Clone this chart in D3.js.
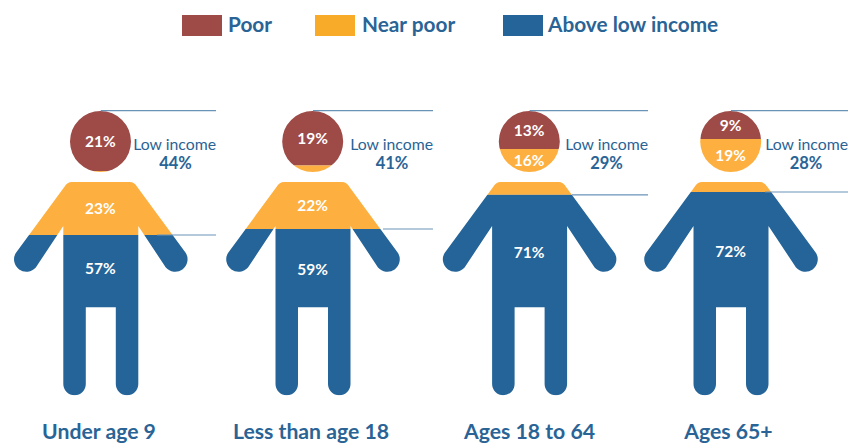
<!DOCTYPE html>
<html><head><meta charset="utf-8">
<script src="https://cdn.jsdelivr.net/npm/d3@7/dist/d3.min.js"></script>
<style>html,body{margin:0;padding:0;background:#fff}svg{display:block}text{font-family:Lato,sans-serif}</style>
</head><body><svg id="c" width="850" height="445"></svg>
<script>
const groups = ["Under age 9","Less than age 18","Ages 18 to 64","Ages 65+"];
const poor = [21,19,13,9];
const nearPoor = [23,22,16,19];
const above = [57,59,71,72];
const lowIncome = [44,41,29,28];
const series = ["Poor","Near poor","Above low income"];
const colors = ["#9e4a47","#fdb03f","#246498"];
const legendColors = ["#9e4a47","#f7ab28","#246498"];

const svg = d3.select("#c");
const ink = "#2a6496", lineCol = "#6a93b8";
// share of people (cumulative from the top) -> vertical position on the figure
const y = d3.scaleLinear().domain([0,9,13,21,28,41,44,100]).range([111,139,149,171,192,229,235,395.5]);
const centers = [100.8,313,529.6,731];
const headY = 141.5, headR = 30.5, bodyTop = 182, headBottom = 172, labelFloor = 310;

const body = "M-29,182 L29,182 Q33.5,182 36.5,187 L85,253 A12.4,12.4 0 0 1 65,267.5 L37.5,226 L37.5,384 A11.2,11.2 0 0 1 15,384 L15,307.3 L-15,307.3 L-15,384 A11.2,11.2 0 0 1 -37.5,384 L-37.5,226 L-65,267.5 A12.4,12.4 0 0 1 -85,253 L-36.5,187 Q-33.5,182 -29,182 Z";

const defs = svg.append("defs");
groups.forEach((g,i)=>{
  const c = defs.append("clipPath").attr("id","fig"+i);
  c.append("path").attr("d",body).attr("transform",`translate(${centers[i]},0)`);
  c.append("circle").attr("cx",centers[i]-0.3).attr("cy",headY).attr("r",headR);
});

// legend
const legX = [182,315,503], legTx = [228,362,548];
series.forEach((s,i)=>{
  svg.append("rect").attr("x",legX[i]).attr("y",15).attr("width",40).attr("height",21).attr("fill",legendColors[i]);
  svg.append("text").attr("x",legTx[i]).attr("y",32).attr("font-size",20.8).attr("font-weight",700).attr("fill",ink).text(s);
});

const lineRight = [216,433,648,848], lineLeft = [157,383,572,765], lowX = [175.5,392,606.5,806];
const mid = (a,b)=>(a+b)/2;
groups.forEach((g,i)=>{
  const G = svg.append("g");
  const cut = [0, poor[i], poor[i]+nearPoor[i], 100];
  const F = G.append("g").attr("clip-path",`url(#fig${i})`);
  series.forEach((s,k)=>{
    F.append("rect").attr("x",centers[i]-100).attr("width",200)
      .attr("y",y(cut[k])).attr("height",y(cut[k+1])-y(cut[k])).attr("fill",colors[k]);
  });
  // leader lines
  G.append("line").attr("x1",centers[i]).attr("x2",lineRight[i]).attr("y1",y(0)-0.3).attr("y2",y(0)-0.3).attr("stroke",lineCol).attr("stroke-width",1.2);
  G.append("line").attr("x1",lineLeft[i]).attr("x2",lineRight[i]).attr("y1",y(lowIncome[i])).attr("y2",y(lowIncome[i])).attr("stroke",lineCol).attr("stroke-width",1.2);
  // value labels
  const yPoor = mid(y(0),Math.min(y(cut[1]),headBottom));
  const b1 = y(cut[1]), b2 = y(cut[2]);
  const yNear = (headBottom-b1) > (b2-bodyTop) ? mid(b1,headBottom) : mid(bodyTop,b2);
  const yAbove = mid(b2,labelFloor) - (i===0 ? 4 : 0);
  const vals = [[poor[i],yPoor],[nearPoor[i],yNear],[above[i],yAbove]];
  vals.forEach(v=>{
    G.append("text").attr("x",centers[i]-0.5).attr("y",v[1]+5.5).attr("text-anchor","middle")
      .attr("font-size",15.5).attr("font-weight",700).attr("fill","#fff").text(v[0]+"%");
  });
  // low income note
  G.append("text").attr("x",lineRight[i]).attr("y",150).attr("text-anchor","end")
    .attr("font-size",15.8).attr("fill",ink).text("Low income");
  G.append("text").attr("x",lowX[i]).attr("y",168.5).attr("text-anchor","middle")
    .attr("font-size",16.5).attr("font-weight",700).attr("fill",ink).text(lowIncome[i]+"%");
});
// group names
const nameX = [99,311,529.5,728.5];
groups.forEach((g,i)=>{
  svg.append("text").attr("x",nameX[i]).attr("y",438.5).attr("text-anchor","middle")
    .attr("font-size",21.2).attr("font-weight",700).attr("fill",ink).text(g);
});
</script></body></html>
